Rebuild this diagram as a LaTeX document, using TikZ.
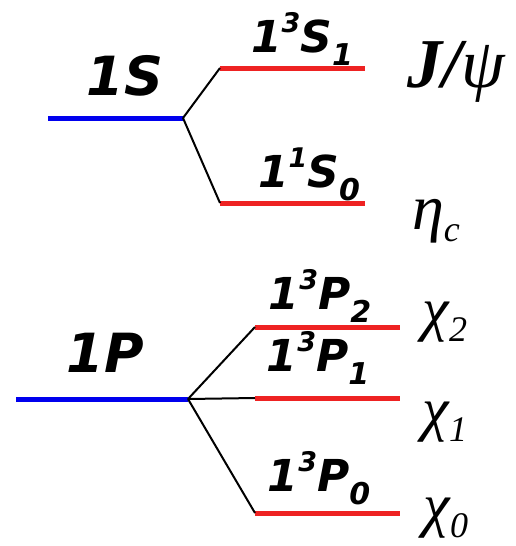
\documentclass[tikz,border=0pt]{standalone}
\usepackage{fontspec}
\newfontfamily\lvlfont{DejaVu Sans}
\newfontfamily\grk{Liberation Serif}
\definecolor{lvlred}{HTML}{EE2222}
\definecolor{lvlblue}{HTML}{0000EE}
% level label: 1^{#1}#2_{#3}
\newcommand\lvlsub[3]{1\raisebox{20pt}{\fontsize{27}{27}\selectfont #1}#2\raisebox{-13pt}{\fontsize{30}{30}\selectfont #3}}
% greek label with subscript
\newcommand\grksub[2]{#1\raisebox{-12pt}{\fontsize{36}{36}\selectfont #2}}
\begin{document}
\begin{tikzpicture}[x=1pt,y=-1pt]
\tikzset{
  bluelevel/.style={draw=lvlblue, line width=5pt},
  redlevel/.style={draw=lvlred, line width=5pt},
  split/.style={draw=black, line width=2pt},
  biglbl/.style={inner sep=0pt, font=\lvlfont\bfseries\itshape\fontsize{54}{54}\selectfont},
  sublbl/.style={inner sep=0pt, font=\lvlfont\bfseries\itshape\fontsize{44}{44}\selectfont},
  namelbl/.style={inner sep=0pt, font=\grk\itshape\fontsize{60}{60}\selectfont}
}
\useasboundingbox (0,0) rectangle (516,546);
% S levels
\coordinate (S0a) at (48,118);  \coordinate (S0b) at (183,118);
\coordinate (S1a) at (220,68);  \coordinate (S1b) at (365,68);
\coordinate (S2a) at (220,203); \coordinate (S2b) at (365,203);
\draw[bluelevel] (S0a) -- (S0b);
\draw[redlevel] (S1a) -- (S1b);
\draw[redlevel] (S2a) -- (S2b);
\draw[split] (S0b) -- (S1a);
\draw[split] (S0b) -- (S2a);
% P levels
\coordinate (P0a) at (16,399);  \coordinate (P0b) at (188,399);
\coordinate (P2a) at (255,327); \coordinate (P2b) at (400,327);
\coordinate (P1a) at (255,398); \coordinate (P1b) at (400,398);
\coordinate (Pza) at (255,513); \coordinate (Pzb) at (400,513);
\draw[bluelevel] (P0a) -- (P0b);
\draw[redlevel] (P2a) -- (P2b);
\draw[redlevel] (P1a) -- (P1b);
\draw[redlevel] (Pza) -- (Pzb);
\draw[split] (P0b) -- (P2a);
\draw[split] (P0b) -- (P1a);
\draw[split] (P0b) -- (Pza);
% labels
\node[biglbl] (l1S) at (125,76) {1S};
\node[sublbl] (l3S1) at (302,39) {\lvlsub{3}{S}{1}};
\node[sublbl] (l1S0) at (309,174) {\lvlsub{1}{S}{0}};
\node[namelbl, font=\grk\itshape\fontsize{70}{70}\selectfont] (jpsi) at (456,72) {{\bfseries J/}ψ};
\node[namelbl, font=\grk\itshape\fontsize{64}{64}\selectfont] (etac) at (436,221) {\grksub{η}{c}};
\node[biglbl] (l1P) at (105,353) {1P};
\node[sublbl] (l3P2) at (320,296) {\lvlsub{3}{P}{2}};
\node[sublbl] (l3P1) at (318,358) {\lvlsub{3}{P}{1}};
\node[sublbl] (l3P0) at (319,478) {\lvlsub{3}{P}{0}};
\node[namelbl] (chi2) at (445,322) {\grksub{χ}{2}};
\node[namelbl] (chi1) at (445,422) {\grksub{χ}{1}};
\node[namelbl] (chi0) at (446,518) {\grksub{χ}{0}};
\end{tikzpicture}
\end{document}
